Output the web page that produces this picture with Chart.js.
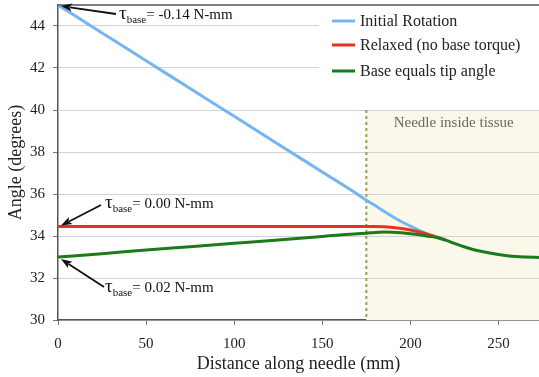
<!DOCTYPE html>
<html><head><meta charset="utf-8">
<script src="https://cdn.jsdelivr.net/npm/chart.js@4"></script>
<style>html,body{margin:0;padding:0;background:#fff}#wrap{width:539px;height:377px;position:relative}</style>
</head><body><div id="wrap"><canvas id="c"></canvas></div>
<script>
const distances = [0,25,50,75,100,125,150,160,170,175,180,185,190,195,200,205,210,215,220,225,230,235,240,245,250,255,260,265,273];
const initialRotation = [45,43.67,42.35,41.02,39.70,38.37,37.05,36.52,35.99,35.70,35.45,35.18,34.92,34.68,34.47,34.27,34.09,33.94,33.80,null,null,null,null,null,null,null,null,null,null];
const relaxed = [34.45,34.45,34.45,34.45,34.45,34.45,34.45,34.45,34.45,34.45,34.45,34.44,34.41,34.36,34.29,34.19,34.08,33.95,33.80,null,null,null,null,null,null,null,null,null,null];
const baseEqualsTip = [33.0,33.16,33.33,33.49,33.65,33.81,33.98,34.05,34.11,34.13,34.17,34.19,34.18,34.15,34.11,34.06,33.99,33.93,33.80,33.65,33.50,33.37,33.27,33.19,33.12,33.06,33.02,33.00,32.98];
const seriesNames = ['Initial Rotation','Relaxed (no base torque)','Base equals tip angle'];
const seriesColors = ['#74B6F2','#E8321E','#1B7A1B'];
const xTicks = [0,50,100,150,200,250];
const yTicks = [30,32,34,36,38,40,42,44];
const tissueStart = 175, xMax = 273;
const tauLabels = [
  {x:0, y:45, text:'= -0.14 N-mm'},
  {x:0, y:34.45, text:'= 0.00 N-mm'},
  {x:0, y:33.0, text:'= 0.02 N-mm'}
];

const SERIF = '"Liberation Serif", "Times New Roman", serif';
function pts(arr){ return distances.map((d,i)=>arr[i]===null?null:{x:d,y:arr[i]}).filter(p=>p); }

const bgPlugin = {
  id:'bg',
  beforeDatasetsDraw(chart){
    const {ctx, chartArea:a, scales:{x,y}} = chart;
    ctx.save();
    const x0 = x.getPixelForValue(tissueStart);
    const yTop = y.getPixelForValue(40);
    ctx.fillStyle = '#FAF8EA';
    ctx.fillRect(x0, yTop, a.right - x0, a.bottom - yTop);
    ctx.strokeStyle = '#D2D2D2'; ctx.lineWidth = 1;
    [32,34,36,38].forEach(v=>{const py=Math.round(y.getPixelForValue(v))+0.5; ctx.beginPath(); ctx.moveTo(x0,py); ctx.lineTo(a.right,py); ctx.stroke();});
    ctx.beginPath(); const py40=Math.round(yTop)+0.5; ctx.moveTo(a.left,py40); ctx.lineTo(a.right,py40); ctx.stroke();
    ctx.strokeStyle = '#A39A45'; ctx.lineWidth = 2; ctx.setLineDash([3,3]);
    ctx.beginPath(); ctx.moveTo(x0, yTop); ctx.lineTo(x0, a.bottom); ctx.stroke();
    ctx.setLineDash([]);
    ctx.fillStyle = '#6A6A55'; ctx.font = '15px ' + SERIF; ctx.textAlign = 'center'; ctx.textBaseline='middle';
    ctx.fillText('Needle inside tissue', (x0 + a.right)/2 + 1, yTop + 13);
    ctx.fillStyle = '#fff';
    ctx.fillRect(319, a.top+1, a.right - 319, yTop - a.top - 1.5);
    ctx.restore();
  },
  afterDatasetsDraw(chart){
    const {ctx, chartArea:a, scales:{x,y}} = chart;
    ctx.save();
    ctx.strokeStyle = '#555'; ctx.lineWidth = 1.5;
    ctx.beginPath(); ctx.moveTo(a.left, a.top); ctx.lineTo(a.right, a.top); ctx.stroke();
    ctx.font = '16px ' + SERIF; ctx.textAlign='left'; ctx.textBaseline='middle';
    const rows = [21,45,71];
    seriesNames.forEach((n,i)=>{
      ctx.strokeStyle = seriesColors[i]; ctx.lineWidth = 3;
      ctx.beginPath(); ctx.moveTo(332, rows[i]); ctx.lineTo(355, rows[i]); ctx.stroke();
      ctx.fillStyle = '#222'; ctx.fillText(n, 360, rows[i]+1);
    });
    const geo = [
      {tail:[116,14], tx:119, ty:14},
      {tail:[101,205], tx:105, ty:203},
      {tail:[104,287], tx:105, ty:287}
    ];
    tauLabels.forEach((t,i)=>{
      const tipX = x.getPixelForValue(t.x) + 3, tipY = y.getPixelForValue(t.y) + (i===0?1:(i===1?-1:2));
      const g = geo[i];
      ctx.strokeStyle='#111'; ctx.fillStyle='#111'; ctx.lineWidth=1.8;
      const ang = Math.atan2(tipY - g.tail[1], tipX - g.tail[0]);
      const hl = 11, hw = 4;
      const bx = tipX - hl*Math.cos(ang), by = tipY - hl*Math.sin(ang);
      ctx.beginPath(); ctx.moveTo(g.tail[0], g.tail[1]); ctx.lineTo(bx + 2*Math.cos(ang), by + 2*Math.sin(ang)); ctx.stroke();
      ctx.beginPath();
      ctx.moveTo(tipX, tipY);
      ctx.lineTo(bx - hw*Math.sin(ang), by + hw*Math.cos(ang));
      ctx.lineTo(bx + 2.5*Math.cos(ang), by + 2.5*Math.sin(ang));
      ctx.lineTo(bx + hw*Math.sin(ang), by - hw*Math.cos(ang));
      ctx.closePath(); ctx.fill();
      ctx.fillStyle='#111'; ctx.textBaseline='alphabetic'; ctx.textAlign='left';
      ctx.font = '19px ' + SERIF;
      ctx.fillText('τ', g.tx, g.ty + 5);
      const w1 = ctx.measureText('τ').width;
      ctx.font = '11px ' + SERIF;
      ctx.fillText('base', g.tx + w1, g.ty + 9);
      const w2 = ctx.measureText('base').width;
      ctx.font = '15px ' + SERIF;
      ctx.fillText(t.text, g.tx + w1 + w2, g.ty + 5);
    });
    ctx.restore();
  }
};

const mk = (label, arr, color, order) => ({label, data: pts(arr), borderColor: color, backgroundColor: color, borderWidth: 3, pointRadius: 0, fill:false, cubicInterpolationMode:'monotone', order});

new Chart(document.getElementById('c'), {
  type:'line',
  data:{ datasets:[
    mk(seriesNames[0], initialRotation, seriesColors[0], 2),
    mk(seriesNames[1], relaxed, seriesColors[1], 1),
    mk(seriesNames[2], baseEqualsTip, seriesColors[2], 0)
  ]},
  options:{
    responsive:true, maintainAspectRatio:false, animation:false,
    layout:{padding:{top:5,right:0,left:0,bottom:0}},
    plugins:{legend:{display:false}, tooltip:{enabled:false}},
    scales:{
      x:{type:'linear', min:0, max:xMax,
        afterFit(s){ s.height = 57; s.paddingLeft = 0; s.paddingRight = 0; },
        afterBuildTicks(s){ s.ticks = xTicks.map(v=>({value:v})); },
        grid:{display:true, drawOnChartArea:false, drawTicks:true, tickLength:5, color:'#777'},
        border:{display:true, color:'#555', width:1.5},
        ticks:{font:{family:SERIF,size:15}, color:'#222', padding:10, maxRotation:0},
        title:{display:true, text:'Distance along needle (mm)', font:{family:SERIF,size:18}, color:'#222', padding:{top:0,bottom:2}}
      },
      y:{min:30, max:45,
        afterFit(s){ s.width = 58; s.paddingTop = 0; s.paddingBottom = 0; },
        afterBuildTicks(s){ s.ticks = yTicks.map(v=>({value:v})); },
        grid:{color:'#D2D2D2', lineWidth:1, drawTicks:true, tickLength:5, tickColor:'#777'},
        border:{display:true, color:'#555', width:1.5},
        ticks:{font:{family:SERIF,size:15}, color:'#222', padding:8},
        title:{display:true, text:'Angle (degrees)', font:{family:SERIF,size:18}, color:'#222', padding:{top:5,bottom:0}}
      }
    }
  },
  plugins:[bgPlugin]
});
</script></body></html>
